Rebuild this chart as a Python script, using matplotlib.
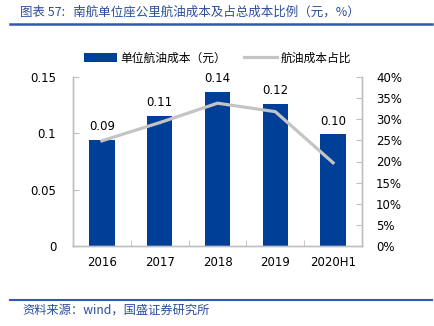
import matplotlib
matplotlib.use("Agg")
import matplotlib.pyplot as plt
from matplotlib.lines import Line2D
from matplotlib.patches import Patch
import numpy as np

plt.rcParams['font.family'] = ['DejaVu Sans', 'Noto Sans CJK SC']

categories = ['2016', '2017', '2018', '2019', '2020H1']
cost = [0.094, 0.115, 0.137, 0.126, 0.099]
cost_labels = ['0.09', '0.11', '0.14', '0.12', '0.10']
share = [24.9, 29.2, 33.8, 31.8, 19.7]
left_ticks = [0, 0.05, 0.1, 0.15]
left_ticklabels = ['0', '0.05', '0.1', '0.15']
right_ticks = [0, 5, 10, 15, 20, 25, 30, 35, 40]
right_ticklabels = ['0%', '5%', '10%', '15%', '20%', '25%', '30%', '35%', '40%']
title = '图表 57:   南航单位座公里航油成本及占总成本比例（元，%）'
source = '资料来源：wind，国盛证券研究所'
legend_labels = ['单位航油成本（元）', '航油成本占比']

BAR = '#003F98'
LINE = '#C4C4C4'
SPINE = '#BFBFBF'
TITLE_C = '#2B4D9A'
cjk = ['Noto Sans CJK SC', 'DejaVu Sans']

fig = plt.figure(figsize=(4.34, 3.26), dpi=100)
ax = fig.add_axes([73/434, 1-246/326, (362-73)/434, (246-77)/326])
ax2 = ax.twinx()

x = np.arange(len(categories))
ax.bar(x, cost, width=0.44, color=BAR, zorder=2)
for xi, v, lab in zip(x, cost, cost_labels):
    ax.annotate(lab, (xi, v), xytext=(0, 5), textcoords='offset points',
                ha='center', va='bottom', fontsize=8.5, color='#000000')
ax2.plot(x, share, color=LINE, lw=2.3, zorder=3)

ax.set_xlim(-0.5, len(categories) - 0.5)
ax.set_ylim(0, 0.15)
ax2.set_ylim(0, 40)
ax.set_yticks(left_ticks)
ax.set_yticklabels(left_ticklabels)
ax2.set_yticks(right_ticks)
ax2.set_yticklabels(right_ticklabels)
ax.set_xticks(x)
ax.set_xticklabels(categories)
ax.set_xticks(np.arange(-0.5, len(categories), 1.0), minor=True)

for a in (ax, ax2):
    a.spines['top'].set_visible(False)
    for s in ('left', 'right', 'bottom'):
        a.spines[s].set_color(SPINE)
        a.spines[s].set_linewidth(1.0)
ax.tick_params(axis='x', which='major', length=0, pad=7, labelsize=8.5)
ax.tick_params(axis='x', which='minor', direction='in', length=4, color=SPINE)
ax.tick_params(axis='y', direction='in', length=4, color=SPINE, pad=12, labelsize=8.5)
ax2.tick_params(axis='y', direction='in', length=4, color=SPINE, pad=10, labelsize=8.5)
ax2.set_zorder(ax.get_zorder() + 1)
ax2.patch.set_visible(False)

handles = [Patch(facecolor=BAR, edgecolor='none'),
           Line2D([0], [0], color=LINE, lw=2.3)]
leg = ax.legend(handles, legend_labels, loc='center', bbox_to_anchor=(0.5, 1 + 19/169),
                ncol=2, frameon=False, handlelength=2.8, handleheight=0.7,
                handletextpad=0.3, columnspacing=1.5, prop={'family': cjk, 'size': 8.5})

fig.text(20/434, 1-12/326, title, fontsize=9, color=TITLE_C, style='italic',
         ha='left', va='center', family=cjk)
fig.add_artist(Line2D([10/434, 432/434], [1-24/326, 1-24/326], color='#2F5BAA', lw=1.8))
fig.add_artist(Line2D([10/434, 432/434], [1-300/326, 1-300/326], color='#2F5BAA', lw=1.5))
fig.text(22/434, 1-310/326, source, fontsize=8.8, color=TITLE_C, style='italic',
         ha='left', va='center', family=cjk)

fig.savefig('out.png', dpi=100)
